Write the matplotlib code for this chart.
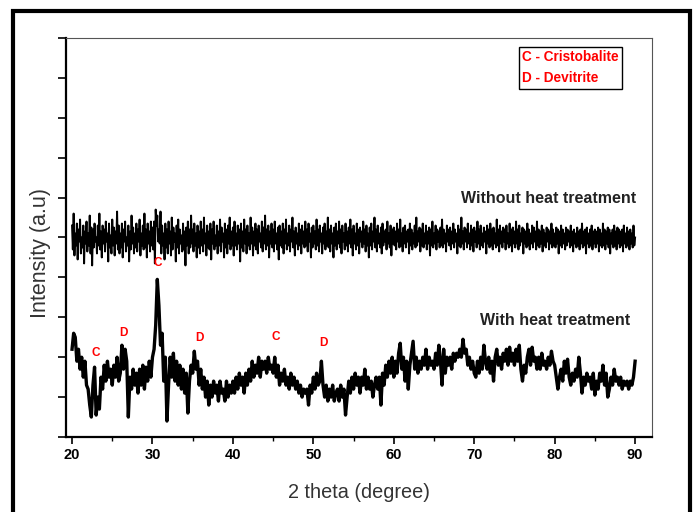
import matplotlib
matplotlib.use("Agg")
import matplotlib.pyplot as plt
import numpy as np
from matplotlib.patches import Rectangle
from matplotlib.ticker import MultipleLocator

# 2 theta grids: 0.1 degree (untreated) and 0.2 degree (treated)
two_theta_fine = np.linspace(20, 90, 701)
two_theta = np.linspace(20, 90, 351)

# without heat treatment (amorphous, offset up), one row per degree
without_ht = [
    5.3, 4.7, 5.6, 4.55, 5.1, 4.8, 5.35, 4.45, 5.2, 4.9,
    5.45, 4.6, 5.0, 4.75, 5.3, 4.35, 5.15, 4.85, 5.4, 4.65,
    5.1, 4.8, 5.55, 4.6, 5.25, 4.3, 5.2, 4.75, 5.35, 4.9,
    5.0, 4.6, 5.3, 4.8, 5.6, 4.7, 5.15, 4.5, 5.3, 4.85,
    5.2, 4.65, 5.4, 4.9, 5.1, 4.4, 5.35, 4.75, 5.05, 4.6,
    5.45, 4.8, 5.25, 4.55, 5.15, 4.85, 5.65, 4.7, 5.3, 4.6,
    5.1, 4.75, 5.35, 4.5, 5.2, 4.9, 5.4, 4.65, 5.0, 4.8,
    5.3, 4.4, 5.15, 4.7, 5.55, 4.85, 5.25, 4.6, 5.1, 4.75,
    5.35, 4.65, 5.2, 4.9, 5.45, 4.55, 5.1, 4.8, 5.3, 4.7,
    5.6, 4.75, 5.2, 4.5, 5.35, 4.85, 5.15, 4.65, 5.4, 4.8,
    5.25, 4.7, 5.4, 4.35, 5.7, 5.3, 5.55, 4.9, 5.2, 4.85,
    5.65, 4.6, 5.3, 4.8, 5.1, 4.45, 5.35, 4.75, 5.2, 4.6,
    5.4, 4.85, 5.15, 4.55, 5.5, 4.7, 5.25, 4.9, 5.1, 4.4,
    5.3, 4.75, 5.45, 4.6, 5.2, 4.85, 5.05, 4.65, 5.35, 4.7,
    5.15, 4.3, 5.25, 4.8, 5.4, 4.6, 5.2, 4.75, 5.55, 4.85,
    5.2, 4.65, 5.35, 4.8, 5.1, 4.5, 5.3, 4.75, 5.15, 4.6,
    5.4, 4.8, 5.2, 4.65, 5.5, 4.85, 5.1, 4.55, 5.3, 4.75,
    5.15, 4.7, 5.35, 4.45, 5.2, 4.85, 5.4, 4.7, 5.05, 4.8,
    5.3, 4.6, 5.15, 4.8, 5.45, 4.65, 5.25, 4.9, 5.1, 4.5,
    5.35, 4.75, 5.2, 4.6, 5.3, 4.85, 5.5, 4.7, 5.15, 4.8,
    5.25, 4.55, 5.4, 4.8, 5.1, 4.7, 5.3, 4.85, 5.2, 4.4,
    5.35, 4.75, 5.15, 4.65, 5.45, 4.85, 5.2, 4.6, 5.3, 4.8,
    5.1, 4.7, 5.5, 4.85, 5.25, 4.55, 5.15, 4.8, 5.35, 4.7,
    5.2, 4.6, 5.3, 4.9, 5.1, 4.75, 5.4, 4.65, 5.25, 4.85,
    5.55, 4.7, 5.2, 4.8, 5.3, 4.5, 5.15, 4.85, 5.35, 4.75,
    5.2, 4.65, 5.4, 4.85, 5.1, 4.7, 5.25, 4.45, 5.3, 4.8,
    5.15, 4.75, 5.35, 4.6, 5.2, 4.85, 5.45, 4.7, 5.1, 4.8,
    5.3, 4.65, 5.2, 4.9, 5.5, 4.75, 5.15, 4.55, 5.25, 4.85,
    5.1, 4.7, 5.35, 4.8, 5.2, 4.6, 5.3, 4.85, 5.15, 4.75,
    5.4, 4.8, 5.2, 4.65, 5.35, 4.9, 5.1, 4.5, 5.25, 4.75,
    5.3, 4.85, 5.15, 4.7, 5.45, 4.8, 5.2, 4.65, 5.3, 4.9,
    5.1, 4.6, 5.25, 4.85, 5.35, 4.7, 5.15, 4.8, 5.5, 4.75,
    5.2, 4.65, 5.3, 4.85, 5.1, 4.5, 5.25, 4.8, 5.35, 4.7,
    5.15, 4.85, 5.4, 4.75, 5.2, 4.6, 5.3, 4.9, 5.1, 4.7,
    5.35, 4.8, 5.15, 4.65, 5.25, 4.85, 5.45, 4.75, 5.2, 4.55,
    5.3, 4.85, 5.1, 4.7, 5.35, 4.8, 5.2, 4.6, 5.25, 4.9,
    5.15, 4.75, 5.4, 4.85, 5.2, 4.65, 5.3, 4.8, 5.1, 4.5,
    5.25, 4.8, 5.35, 4.7, 5.15, 4.9, 5.5, 4.75, 5.2, 4.65,
    5.3, 4.85, 5.1, 4.75, 5.25, 4.6, 5.35, 4.8, 5.15, 4.9,
    5.2, 4.7, 5.4, 4.85, 5.1, 4.75, 5.3, 4.55, 5.2, 4.85,
    5.25, 4.8, 5.15, 4.7, 5.35, 4.9, 5.2, 4.75, 5.45, 4.8,
    5.1, 4.65, 5.25, 4.85, 5.3, 4.75, 5.15, 4.9, 5.2, 4.6,
    5.35, 4.8, 5.2, 4.7, 5.1, 4.85, 5.3, 4.75, 5.5, 4.8,
    5.15, 4.9, 5.25, 4.65, 5.2, 4.8, 5.35, 4.75, 5.1, 4.85,
    5.3, 4.7, 5.15, 4.85, 5.25, 4.55, 5.2, 4.8, 5.4, 4.75,
    5.1, 4.85, 5.3, 4.7, 5.2, 4.9, 5.15, 4.75, 5.25, 4.8,
    5.45, 4.75, 5.2, 4.85, 5.1, 4.65, 5.3, 4.9, 5.2, 4.8,
    5.25, 4.7, 5.15, 4.85, 5.35, 4.75, 5.2, 4.9, 5.1, 4.6,
    5.3, 4.8, 5.2, 4.75, 5.5, 4.85, 5.15, 4.7, 5.25, 4.9,
    5.2, 4.75, 5.35, 4.85, 5.1, 4.7, 5.3, 4.8, 5.2, 4.65,
    5.25, 4.9, 5.15, 4.75, 5.4, 4.85, 5.2, 4.7, 5.3, 4.8,
    5.1, 4.75, 5.25, 4.9, 5.15, 4.6, 5.3, 4.85, 5.2, 4.75,
    5.35, 4.8, 5.2, 4.7, 5.25, 4.85, 5.1, 4.75, 5.45, 4.8,
    5.2, 4.65, 5.3, 4.85, 5.15, 4.75, 5.25, 4.9, 5.2, 4.7,
    5.3, 4.85, 5.1, 4.75, 5.35, 4.8, 5.2, 4.65, 5.25, 4.85,
    5.15, 4.75, 5.4, 4.85, 5.2, 4.7, 5.3, 4.8, 5.1, 4.9,
    5.25, 4.6, 5.2, 4.85, 5.15, 4.75, 5.35, 4.8, 5.2, 4.7,
    5.1, 4.85, 5.3, 4.75, 5.25, 4.9, 5.15, 4.7, 5.4, 4.8,
    5.2, 4.75, 5.15, 4.85, 5.3, 4.65, 5.2, 4.8, 5.1, 4.75,
    5.25, 4.9, 5.2, 4.7, 5.15, 4.85, 5.35, 4.75, 5.2, 4.8,
    5.1, 4.75, 5.25, 4.85, 5.2, 4.6, 5.15, 4.8, 5.3, 4.75,
    5.2, 4.85, 5.1, 4.7, 5.25, 4.8, 5.2, 4.9, 5.15, 4.75,
    5.3, 4.8, 5.15, 4.65, 5.2, 4.85, 5.1, 4.75, 5.25, 4.8,
    5.15, 4.7, 5.2, 4.85, 5.35, 4.75, 5.15, 4.8, 5.2, 4.6,
    5.25, 4.85, 5.1, 4.75, 5.2, 4.8, 5.3, 4.7, 5.15, 4.85,
    5.2, 4.75, 5.15, 4.85, 5.25, 4.65, 5.2, 4.8, 5.1, 4.75,
    5.35, 4.8, 5.2, 4.7, 5.15, 4.85, 5.25, 4.75, 5.2, 4.6,
    5.1, 4.85, 5.2, 4.75, 5.3, 4.8, 5.15, 4.7, 5.25, 4.85,
    5.2, 4.75, 5.15, 4.8, 5.2, 4.65, 5.3, 4.85, 5.1, 4.75,
    5.25, 4.8, 5.15, 4.7, 5.2, 4.85, 5.1, 4.75, 5.3, 4.8,
    5.0,
]

# with heat treatment, one row per degree
with_ht = [
    2.2, 2.6, 2.5, 1.9, 2.2,
    1.7, 2.0, 1.5, 1.9, 1.3,
    1.2, 0.8, 0.5, 1.3, 1.75,
    0.55, 1.0, 0.7, 1.5, 1.2,
    1.8, 1.4, 1.9, 1.5, 1.7,
    1.3, 1.8, 1.5, 2.0, 1.4,
    1.6, 2.3, 1.7, 2.2, 1.9,
    0.5, 1.5, 1.2, 1.7, 1.3,
    1.6, 1.1, 1.7, 1.3, 1.8,
    1.2, 1.75, 1.4, 1.9, 1.5,
    2.0, 2.2, 2.8, 3.95, 3.3,
    2.3, 2.6, 1.4, 2.0, 0.4,
    1.3, 2.0, 1.5, 2.1, 1.4,
    1.9, 1.3, 1.8, 1.2, 1.7,
    1.1, 1.6, 0.6, 1.4, 1.8,
    1.6, 2.15, 1.7, 1.9, 1.3,
    1.7, 1.2, 1.5, 1.0, 1.4,
    0.8, 1.3, 1.0, 1.4, 1.1,
    1.3, 0.9, 1.4, 1.1, 1.2,
    0.9, 1.4, 1.0, 1.3, 1.1,
    1.4, 1.1, 1.5, 1.2, 1.6,
    1.3, 1.5, 1.1, 1.6, 1.3,
    1.7, 1.4, 1.9, 1.5, 1.8,
    1.6, 2.0, 1.5, 1.9, 1.7,
    1.9, 1.6, 2.0, 1.7, 1.8,
    1.6, 2.0, 1.5, 1.8, 1.3,
    1.6, 1.4, 1.7, 1.3, 1.5,
    1.2, 1.6, 1.3, 1.5, 1.2,
    1.4, 1.1, 1.3, 1.0, 1.2,
    1.1, 1.2, 0.8, 1.3, 1.1,
    1.5, 1.2, 1.6, 1.3, 1.4,
    1.9, 1.3, 1.0, 1.3, 0.9,
    1.2, 1.0, 1.3, 0.9, 1.1,
    1.2, 0.9, 1.3, 1.0, 1.2,
    0.55, 1.0, 1.4, 1.1, 1.5,
    1.2, 1.6, 1.3, 1.5, 1.1,
    1.5, 1.3, 1.7, 1.2, 1.5,
    1.2, 1.4, 1.0, 1.3, 1.5,
    1.2, 1.5, 0.8, 1.6, 1.3,
    1.8, 1.5, 1.9, 1.6, 2.0,
    1.5, 1.9, 1.6, 2.1, 2.35,
    1.7, 2.0, 1.4, 1.9, 1.2,
    1.8, 2.1, 2.4, 1.7, 2.0,
    1.6, 1.9, 1.7, 2.0, 1.8,
    2.2, 1.7, 2.0, 1.8, 1.9,
    1.7, 2.1, 1.8, 2.3, 1.9,
    1.3, 2.2, 1.6, 2.0, 1.8,
    2.0, 1.7, 2.1, 1.9, 2.1,
    2.0, 2.2, 2.0, 2.45, 2.1,
    2.2, 1.8, 2.0, 1.7, 1.9,
    1.6, 1.5, 1.9, 1.6, 2.0,
    1.7, 2.3, 1.9, 1.7, 2.0,
    1.6, 1.9, 1.4, 2.0, 2.2,
    1.8, 2.0, 1.7, 2.1, 1.9,
    2.2, 1.8, 2.25, 1.9, 2.1,
    1.8, 2.2, 1.9, 2.3, 1.7,
    1.4, 1.8, 1.6, 2.0, 2.2,
    1.8, 2.25, 1.9, 2.0, 1.7,
    2.0, 1.7, 2.1, 1.8, 1.9,
    1.7, 2.0, 1.8, 2.15, 1.9,
    1.8, 1.5, 1.2, 1.5, 1.7,
    1.4, 1.9, 1.6, 1.95, 1.5,
    1.3, 1.6, 1.4, 1.7, 1.5,
    2.0, 1.6, 1.1, 1.5, 1.3,
    1.6, 1.4, 1.5, 1.2, 1.6,
    1.05, 1.4, 1.2, 1.6, 1.4,
    1.8, 1.3, 1.6, 1.0, 1.2,
    1.5, 1.3, 1.7, 1.4, 1.5,
    1.3, 1.5, 1.2, 1.4, 1.3,
    1.4, 1.2, 1.4, 1.3, 1.5,
    1.9,
]

# phase marks: label, 2 theta, height
peak_labels = ["C", "D", "C", "D", "C", "D"]
peak_x = [22.9, 26.4, 30.7, 35.8, 45.3, 51.2]
peak_y = [1.95, 2.45, 4.2, 2.33, 2.35, 2.2]

font = ["Liberation Sans", "DejaVu Sans"]

fig = plt.figure(figsize=(6.96, 5.12), dpi=100)
ax = fig.add_axes([66 / 696, 75 / 512, 586 / 696, 399 / 512])

ax.plot(two_theta_fine, without_ht, color="black", lw=1.4)
ax.plot(two_theta, with_ht, color="black", lw=2.4)

for lab, px, py in zip(peak_labels, peak_x, peak_y):
    ax.text(px, py, lab, color="red", fontsize=8.5, fontweight="bold",
            ha="center", va="bottom", family=font)

ax.text(90.1, 5.8, "Without heat treatment", ha="right", va="bottom",
        fontsize=11.5, fontweight="bold", color="#222222", family=font)
ax.text(89.4, 2.72, "With heat treatment", ha="right", va="bottom",
        fontsize=11.5, fontweight="bold", color="#222222", family=font)

ax.text(0.778, 0.97, "C - Cristobalite\nD - Devitrite", transform=ax.transAxes,
        ha="left", va="top", color="red", fontsize=9.8, fontweight="bold",
        family=font, linespacing=1.65,
        bbox=dict(boxstyle="square,pad=0.25", fc="white", ec="black", lw=1.0))

ax.set_xlim(19.25, 92.1)
ax.set_ylim(0, 10)
ax.xaxis.set_major_locator(MultipleLocator(10))
ax.xaxis.set_minor_locator(MultipleLocator(5))
ax.yaxis.set_major_locator(MultipleLocator(1))
ax.set_yticklabels([])

ax.tick_params(axis="x", which="major", direction="out", length=5, width=1.2,
               labelsize=10.5, pad=3)
ax.tick_params(axis="x", which="minor", direction="out", length=3, width=1.0)
ax.tick_params(axis="y", which="major", direction="out", length=6, width=1.2)
for lab in ax.get_xticklabels():
    lab.set_family(font)
    lab.set_fontweight("bold")

ax.spines["left"].set_linewidth(1.6)
ax.spines["bottom"].set_linewidth(1.6)
ax.spines["top"].set_linewidth(0.8)
ax.spines["right"].set_linewidth(0.8)
ax.spines["top"].set_color("#555555")
ax.spines["right"].set_color("#555555")

ax.set_xlabel("2 theta (degree)", fontsize=14.3, color="#333333", family=font)
ax.set_ylabel("Intensity (a.u)", fontsize=15.5, color="#333333", family=font)
ax.xaxis.set_label_coords(0.5, -0.115)
ax.yaxis.set_label_coords(-0.026, 0.46)

# outer frame
fig.patches.append(Rectangle((13 / 696, -0.05), 677 / 696, 1.05 - 11 / 512,
                             transform=fig.transFigure, fill=False,
                             ec="black", lw=3, clip_on=False))

fig.savefig("out.png", dpi=100)
